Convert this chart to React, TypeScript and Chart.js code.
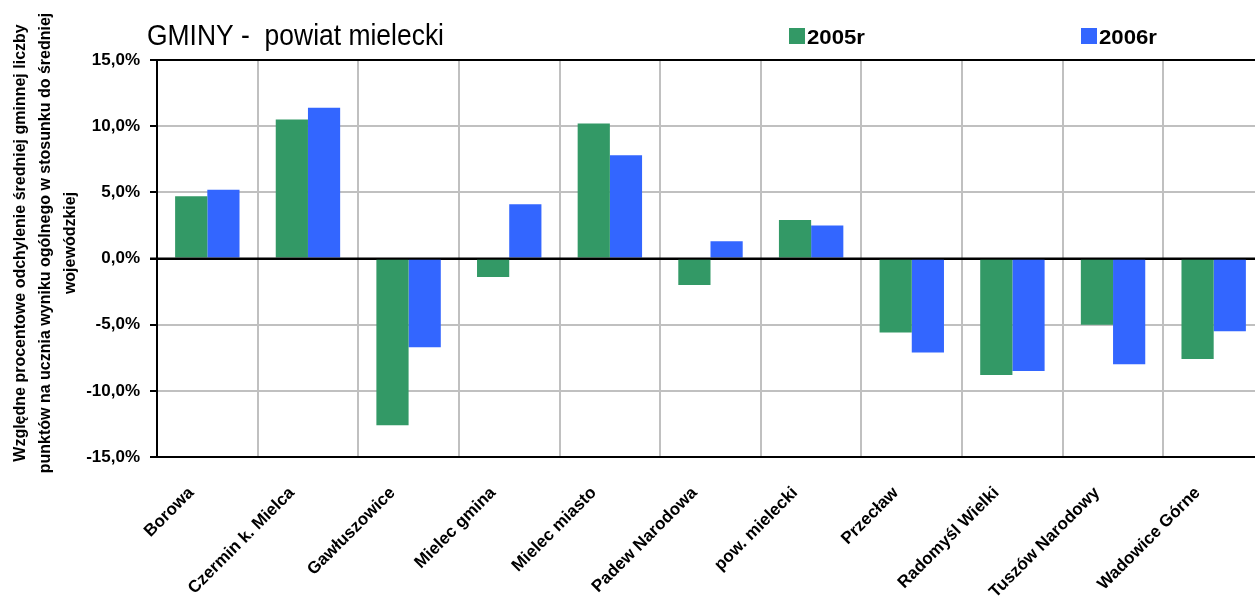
import React, { useEffect, useRef } from "react";
import { Chart, registerables } from "chart.js";

Chart.register(...registerables);

const categories = [
  "Borowa",
  "Czermin k. Mielca",
  "Gawłuszowice",
  "Mielec gmina",
  "Mielec miasto",
  "Padew Narodowa",
  "pow. mielecki",
  "Przecław",
  "Radomyśl Wielki",
  "Tuszów Narodowy",
  "Wadowice Górne",
];

const values2005 = [4.7, 10.5, -12.6, -1.4, 10.2, -2.0, 2.9, -5.6, -8.8, -5.0, -7.6];
const values2006 = [5.2, 11.4, -6.7, 4.1, 7.8, 1.3, 2.5, -7.1, -8.5, -8.0, -5.5];

const seriesLabels = ["2005r", "2006r"];
const seriesColors = ["#339966", "#3366FF"];

const chartTitle = "GMINY -  powiat mielecki";
const yAxisTitleLines = [
  "Względne procentowe odchylenie średniej gminnej liczby",
  "punktów na ucznia wyniku ogólnego w stosunku do średniej",
  "wojewódzkiej",
];

const yMin = -15;
const yMax = 15;
const yStep = 5;

const FONT = "'Liberation Sans', Arial, sans-serif";

const overlayPlugin = {
  id: "overlay",
  afterDatasetsDraw(chart: any) {
    const { ctx, chartArea, scales } = chart;
    const y0 = scales.y.getPixelForValue(0);
    ctx.save();
    ctx.strokeStyle = "#000";
    ctx.lineWidth = 2;
    ctx.beginPath();
    ctx.moveTo(chartArea.left - 7, y0);
    ctx.lineTo(chartArea.right, y0);
    ctx.stroke();
    ctx.restore();
  },
  afterDraw(chart: any) {
    const { ctx } = chart;
    ctx.save();
    // Title
    ctx.fillStyle = "#000";
    ctx.textBaseline = "alphabetic";
    ctx.textAlign = "left";
    ctx.font = `29px ${FONT}`;
    const w = ctx.measureText(chartTitle).width;
    const sx = 297 / w;
    ctx.save();
    ctx.translate(147, 45);
    ctx.scale(sx, 1);
    ctx.fillText(chartTitle, 0, 0);
    ctx.restore();

    // Legend
    const legendX = [789, 1081];
    chart.data.datasets.forEach((ds: any, i: number) => {
      ctx.fillStyle = ds.backgroundColor;
      ctx.fillRect(legendX[i], 28, 16, 16);
      ctx.fillStyle = "#000";
      ctx.font = `bold 21px ${FONT}`;
      const tw = ctx.measureText(ds.label).width;
      ctx.save();
      ctx.translate(legendX[i] + 18, 44);
      ctx.scale(58 / tw, 1);
      ctx.fillText(ds.label, 0, 0);
      ctx.restore();
    });

    // Y axis title
    ctx.font = `bold 16px ${FONT}`;
    ctx.textAlign = "center";
    ctx.textBaseline = "alphabetic";
    const baselines = [25, 50, 75];
    yAxisTitleLines.forEach((line, i) => {
      ctx.save();
      ctx.translate(baselines[i], 243);
      ctx.rotate(-Math.PI / 2);
      ctx.fillText(line, 0, 0);
      ctx.restore();
    });
    ctx.restore();
  },
};

export default function App() {
  const canvasRef = useRef<HTMLCanvasElement | null>(null);

  useEffect(() => {
    const canvas = canvasRef.current;
    if (!canvas) return;
    const chart = new Chart(canvas, {
      type: "bar",
      data: {
        labels: categories,
        datasets: [
          {
            label: seriesLabels[0],
            data: values2005,
            backgroundColor: seriesColors[0],
            categoryPercentage: 0.64,
            barPercentage: 1.0,
          },
          {
            label: seriesLabels[1],
            data: values2006,
            backgroundColor: seriesColors[1],
            categoryPercentage: 0.64,
            barPercentage: 1.0,
          },
        ],
      },
      options: {
        responsive: false,
        animation: false,
        devicePixelRatio: 1,
        layout: { padding: { left: 0, right: 6, top: 60, bottom: 0 } },
        plugins: {
          legend: { display: false },
          title: { display: false },
          tooltip: { enabled: false },
        },
        scales: {
          x: {
            afterFit: (scale: any) => {
              scale.height = 596 - 457;
            },
            grid: {
              color: (c: any) => (c.index === 0 ? "rgba(0,0,0,0)" : "#c0c0c0"),
              lineWidth: 2,
              drawTicks: false,
            },
            border: { color: "#000", width: 2 },
            ticks: {
              autoSkip: false,
              maxRotation: 45,
              minRotation: 45,
              padding: 26,
              labelOffset: -16,
              color: "#000",
              font: { family: FONT, size: 17, weight: "bold" },
            },
          },
          y: {
            min: yMin,
            max: yMax,
            afterFit: (scale: any) => {
              scale.width = 157;
            },
            grid: {
              color: (c: any) => {
                const v = c.tick ? c.tick.value : 0;
                return v === 0 || v === yMin || v === yMax ? "#000" : "#c0c0c0";
              },
              lineWidth: 2,
              tickLength: 7,
              tickColor: "#000",
            },
            border: { color: "#000", width: 2 },
            ticks: {
              stepSize: yStep,
              padding: 10,
              color: "#000",
              font: { family: FONT, size: 17, weight: "bold" },
              callback: (v: any) => Number(v).toFixed(1).replace(".", ",") + "%",
            },
          },
        },
      },
      plugins: [overlayPlugin],
    });
    return () => chart.destroy();
  }, []);

  return (
    <div
      style={{
        position: "fixed",
        left: 0,
        top: 0,
        width: 1255,
        height: 596,
        overflow: "hidden",
        background: "#fff",
      }}
    >
      <canvas ref={canvasRef} width={1270} height={596} style={{ display: "block" }} />
    </div>
  );
}
